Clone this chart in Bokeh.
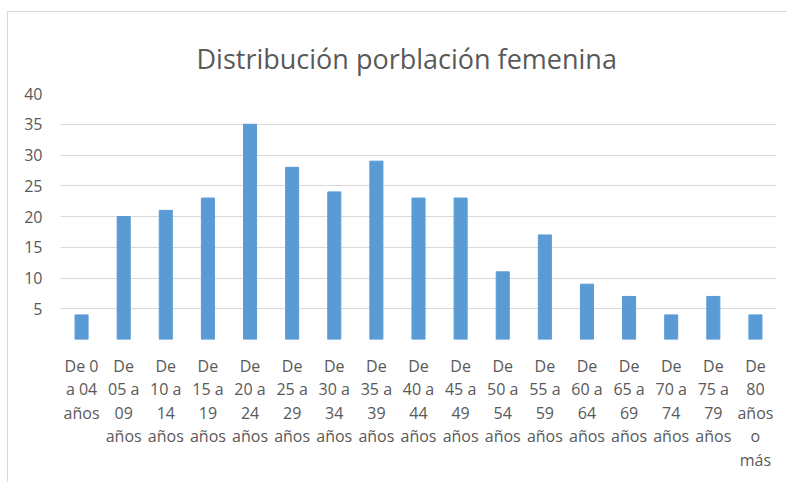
from bokeh.plotting import figure
from bokeh.models import Range1d, FixedTicker, ColumnDataSource
from bokeh.core.properties import value
from bokeh.embed import file_html
from bokeh.resources import INLINE

categories = [
    "De 0\na 04\naños",
    "De\n05 a\n09\naños",
    "De\n10 a\n14\naños",
    "De\n15 a\n19\naños",
    "De\n20 a\n24\naños",
    "De\n25 a\n29\naños",
    "De\n30 a\n34\naños",
    "De\n35 a\n39\naños",
    "De\n40 a\n44\naños",
    "De\n45 a\n49\naños",
    "De\n50 a\n54\naños",
    "De\n55 a\n59\naños",
    "De\n60 a\n64\naños",
    "De\n65 a\n69\naños",
    "De\n70 a\n74\naños",
    "De\n75 a\n79\naños",
    "De\n80\naños\no\nmás",
]
values = [4, 20, 21, 23, 35, 28, 24, 29, 23, 23, 11, 17, 9, 7, 4, 7, 4]
y_ticks = [0, 5, 10, 15, 20, 25, 30, 35, 40]

FONT = "Open Sans"
GREY = "#595959"

src = ColumnDataSource(dict(cat=categories, val=values, base=[0] * len(values)))

p = figure(
    x_range=categories,
    y_range=Range1d(0, 40),
    width=780,
    height=471,
    output_backend="svg",
    toolbar_location=None,
    title="Distribución porblación femenina",
    min_border_left=52,
    min_border_right=12,
    min_border_top=81,
    min_border_bottom=144,
)
p.styles = {
    "margin-left": "7px",
    "margin-top": "11px",
    "border-left": "1px solid #d9d9d9",
    "border-top": "1px solid #d9d9d9",
}

p.vbar(x="cat", top="val", width=0.31, color="#5b9bd5", source=src)

p.text(
    x="cat", y="base", text="cat", source=src,
    y_offset=15, text_align="center", text_baseline="top",
    text_font=value(FONT), text_font_size="16px", text_color=GREY,
    text_line_height=1.07, level="overlay",
)

p.title.align = "left"
p.title.offset = 136
p.title.vertical_align = "top"
p.title.text_font = FONT
p.title.text_font_style = "normal"
p.title.text_font_size = "27px"
p.title.text_color = GREY
p.title.standoff = 30

p.outline_line_color = None
p.xgrid.grid_line_color = None
p.ygrid.grid_line_color = "#d9d9d9"
p.ygrid.grid_line_width = 1

p.yaxis.ticker = FixedTicker(ticks=y_ticks)
p.yaxis.major_label_overrides = {0: ""}
p.yaxis.axis_line_color = None
p.yaxis.major_tick_line_color = None
p.yaxis.minor_tick_line_color = None
p.yaxis.major_label_text_font = FONT
p.yaxis.major_label_text_font_size = "16px"
p.yaxis.major_label_text_color = GREY
p.yaxis.major_label_standoff = 12

p.xaxis.visible = False
p.x_range.range_padding = 0

open("out.html", "w").write(file_html(p, INLINE))
